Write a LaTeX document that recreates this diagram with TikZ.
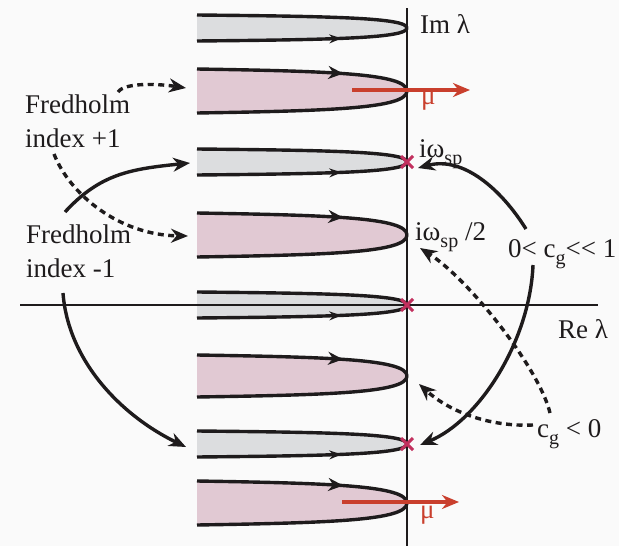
\documentclass[tikz,border=0pt]{standalone}
\usepackage{fontspec}
\setmainfont{Liberation Serif}
\usetikzlibrary{arrows.meta,decorations.markings}
\definecolor{spInk}{HTML}{1E1B1C}
\definecolor{spGrey}{HTML}{DCDDDF}
\definecolor{spPink}{HTML}{E1C9D3}
\definecolor{spRed}{HTML}{C93F2D}
\definecolor{spCross}{HTML}{C2305E}
\definecolor{spBack}{HTML}{FAFAFA}
\newcommand\lowsub[1]{\raisebox{-0.27em}{\fontsize{20}{22}\selectfont #1}}
\tikzset{
  axis/.style      ={spInk,line width=1.6pt},
  rim/.style       ={draw=spInk,line width=3.4pt},
  rimup/.style     ={rim,postaction={decorate},decoration={markings,
                     mark=at position 0.68 with {\arrow{Stealth[length=15pt,width=13pt]}}}},
  rimlo/.style     ={rim,postaction={decorate},decoration={markings,
                     mark=at position 0.68 with {\arrow{Stealth[length=12pt,width=9pt]}}}},
  flow/.style      ={-{Stealth[length=17pt,width=14pt]},spInk,line width=3.4pt},
  flowdash/.style  ={flow,dash pattern=on 6pt off 4.5pt},
  muarrow/.style   ={-{Stealth[length=17pt,width=14pt]},spRed,line width=3.2pt},
  cross/.style     ={spCross,line width=3pt},
  lbl/.style       ={font=\fontsize{27}{34}\selectfont,text=spInk,inner sep=0pt,
                     anchor=base west,align=left},
  mulbl/.style     ={lbl,text=spRed},
}
\begin{document}
\begin{tikzpicture}[x=1pt,y=-1pt]
\fill[spBack] (0,0) rectangle (619,546);
\useasboundingbox (0,0) rectangle (619,546);

% lobes of the spectrum, grey = index 0, pink = index +-1
\foreach \yc/\h/\col in {28/13/spGrey, 91/22/spPink, 162/13/spGrey, 235/22/spPink,
    305/13/spGrey, 376/21/spPink, 444/13/spGrey, 503/22/spPink}
  \fill[\col] (197,\yc-\h) .. controls (330,\yc-0.9*\h) and (407,\yc-0.8*\h) .. (407,\yc)
     .. controls (407,\yc+0.8*\h) and (330,\yc+0.9*\h) .. (197,\yc+\h) -- cycle;
\foreach \yc/\h in {91/22, 235/22, 376/21, 503/22}{
  \draw[rimup] (197,\yc-\h) .. controls (330,\yc-0.9*\h) and (407,\yc-0.8*\h) .. (407,\yc);
  \draw[rim] (197,\yc+\h) .. controls (330,\yc+0.9*\h) and (407,\yc+0.8*\h) .. (407,\yc);
}
\foreach \yc/\h in {28/13, 162/13, 305/13, 444/13}{
  \draw[rim] (197,\yc-\h) .. controls (330,\yc-0.9*\h) and (407,\yc-0.8*\h) .. (407,\yc);
  \draw[rimlo] (197,\yc+\h) .. controls (330,\yc+0.9*\h) and (407,\yc+0.8*\h) .. (407,\yc);
}

% axes
\draw[axis] (407,8) -- (407,546);
\draw[axis] (20,305) -- (598,305);
\node[lbl] (imlam) at (420,33) {Im λ};
\node[lbl] (relam) at (558,338) {Re λ};

% crossings of the imaginary axis
\foreach \yc in {162,305,444}
  \draw[cross] (401,\yc-6) -- (413,\yc+6) (401,\yc+6) -- (413,\yc-6);

% shift by mu
\coordinate (mu1s) at (352,90);  \coordinate (mu1e) at (470,90);
\coordinate (mu2s) at (342,502); \coordinate (mu2e) at (459,502);
\draw[muarrow] (mu1s) -- (mu1e);
\draw[muarrow] (mu2s) -- (mu2e);
\node[mulbl] (mu1) at (421,104) {μ};
\node[mulbl] (mu2) at (420,518) {μ};

% labels (base = last line)
\node[lbl] (fredp) at (25,147) {Fredholm\\index +1};
\node[lbl] (fredm) at (26,277) {Fredholm\\index -1};
\node[lbl] (wsp)   at (419,157) {iω\lowsub{sp}};
\node[lbl] (wsph)  at (415,240) {iω\lowsub{sp} /2};
\node[lbl] (cgpos) at (508,257) {0< c\lowsub{g}{<}{<} 1};
\node[lbl] (cgneg) at (537,437) {c\lowsub{g} < 0};

% arrows
\coordinate (a1s) at (65,212);   \coordinate (a1e) at (190,163);
\coordinate (a2s) at (63,293);   \coordinate (a2e) at (186,447);
\coordinate (a3s) at (526,229);  \coordinate (a3e) at (418,168);
\coordinate (a4s) at (533,265);  \coordinate (a4e) at (420,445);
\coordinate (d1s) at (118,92);   \coordinate (d1e) at (186,88);
\coordinate (d2s) at (54,154);   \coordinate (d2e) at (188,236);
\coordinate (d3s) at (550,413);  \coordinate (d3e) at (420,248);
\coordinate (d4s) at (533,425);  \coordinate (d4e) at (419,384);

\draw[flow] (a1s) .. controls (100,174) and (130,169) .. (a1e);
\draw[flow] (a2s) .. controls (68,360) and (120,415) .. (a2e);
\draw[flow] (a3s) .. controls (501,189) and (463,156) .. (a3e);
\draw[flow] (a4s) .. controls (530,340) and (480,420) .. (a4e);

\draw[flowdash] (d1s) .. controls (125,82) and (160,84) .. (d1e);
\draw[flowdash] (d2s) .. controls (70,195) and (120,235) .. (d2e);
\draw[flowdash] (d3s) .. controls (540,370) and (470,280) .. (d3e);
\draw[flowdash] (d4s) .. controls (490,427) and (450,412) .. (d4e);
\end{tikzpicture}
\end{document}
